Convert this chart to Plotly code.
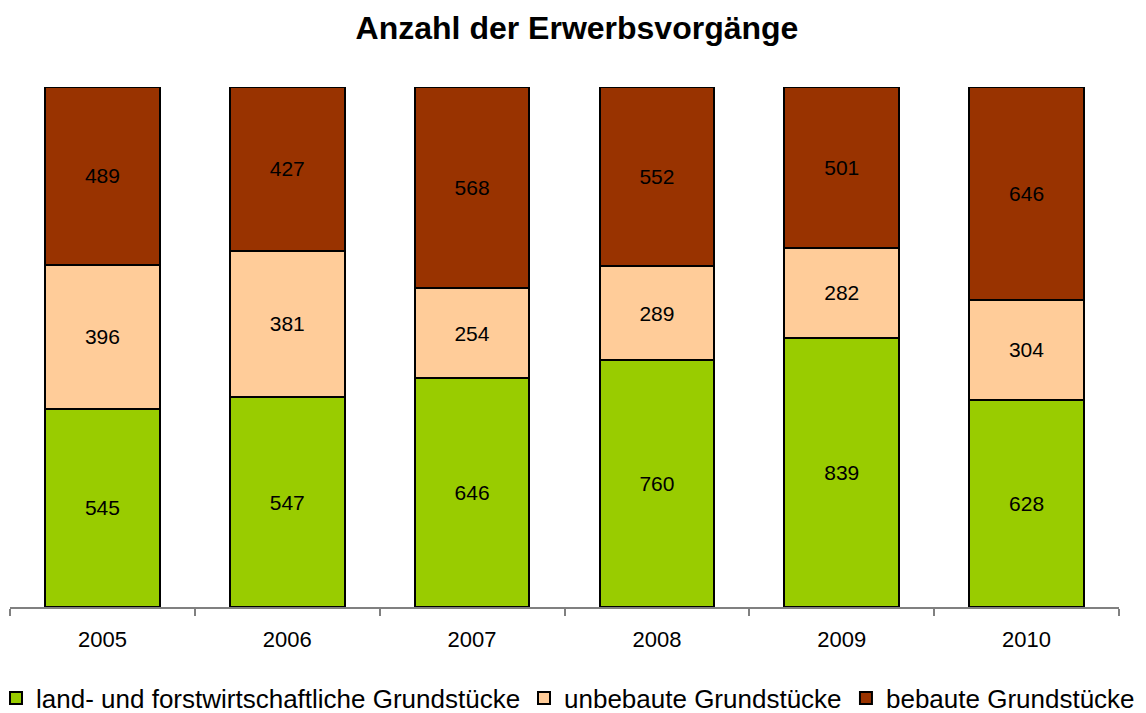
import plotly.graph_objects as go

years = ["2005", "2006", "2007", "2008", "2009", "2010"]
land_forst = [545, 547, 646, 760, 839, 628]
unbebaut = [396, 381, 254, 289, 282, 304]
bebaut = [489, 427, 568, 552, 501, 646]

series_names = ["land- und forstwirtschaftliche Grundstücke", "unbebaute Grundstücke", "bebaute Grundstücke"]
series_values = [land_forst, unbebaut, bebaut]
series_colors = ["#99CC00", "#FFCC99", "#993300"]
legend_ids = ["legend", "legend2", "legend3"]
legend_x = [-0.0126, 0.4635, 0.7538]

FONT = "Liberation Sans, Arial, sans-serif"

fig = go.Figure()
for name, vals, col, lg in zip(series_names, series_values, series_colors, legend_ids):
    fig.add_trace(go.Bar(
        x=years, y=vals, name=name, legend=lg,
        marker=dict(color=col, line=dict(color="black", width=2)),
        text=[str(v) for v in vals],
        textposition="inside", insidetextanchor="middle", textangle=0,
        constraintext="none",
        textfont=dict(family=FONT, size=21, color="black"),
        hoverinfo="skip",
    ))

legend_common = dict(orientation="h", xanchor="left", y=-0.175, yanchor="middle",
                     font=dict(family=FONT, size=26, color="black"),
                     bgcolor="rgba(0,0,0,0)", itemwidth=30)

fig.update_layout(
    barmode="stack", barnorm="percent", bargap=0.38,
    width=1138, height=705,
    margin=dict(l=2, r=27, t=79, b=106, autoexpand=False),
    paper_bgcolor="white", plot_bgcolor="white",
    font=dict(family=FONT, color="black"),
    title=dict(text="<b>Anzahl der Erwerbsvorgänge</b>", x=0.5, xanchor="center",
               y=1 - 20 / 705, yanchor="middle", yref="container",
               font=dict(family=FONT, size=32, color="black")),
    xaxis=dict(showline=True, linecolor="#808080", linewidth=1.5,
               ticks="outside", tickson="boundaries", ticklen=7, tickcolor="#808080",
               tickwidth=1.5, tickfont=dict(family=FONT, size=22, color="black"),
               ticklabelstandoff=12, showgrid=False, zeroline=False),
    yaxis=dict(visible=False, range=[0, 100], showgrid=False, zeroline=False),
    showlegend=True,
    legend=dict(x=legend_x[0], **legend_common),
    legend2=dict(x=legend_x[1], **legend_common),
    legend3=dict(x=legend_x[2], **legend_common),
)

fig.write_html("out.html")
